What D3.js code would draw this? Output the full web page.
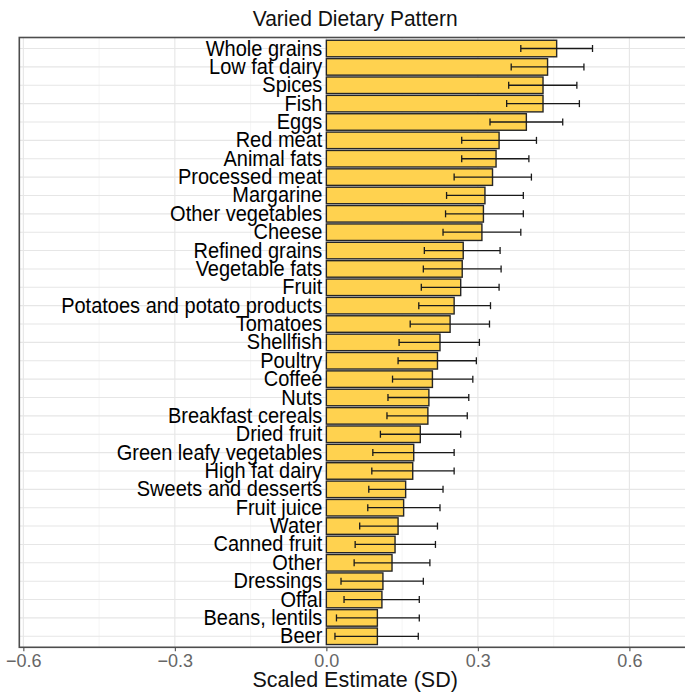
<!DOCTYPE html>
<html>
<head>
<meta charset="utf-8">
<script src="https://cdn.jsdelivr.net/npm/d3@7"></script>
<style>
body { margin: 0; background: #fff; }
text { font-family: "Liberation Sans", Arial, sans-serif; }
</style>
</head>
<body>
<script>
// DATA
const foods = ["Whole grains", "Low fat dairy", "Spices", "Fish", "Eggs", "Red meat", "Animal fats",
  "Processed meat", "Margarine", "Other vegetables", "Cheese", "Refined grains", "Vegetable fats", "Fruit",
  "Potatoes and potato products", "Tomatoes", "Shellfish", "Poultry", "Coffee", "Nuts", "Breakfast cereals",
  "Dried fruit", "Green leafy vegetables", "High fat dairy", "Sweets and desserts", "Fruit juice", "Water",
  "Canned fruit", "Other", "Dressings", "Offal", "Beans, lentils", "Beer"];
const estimate = [0.456, 0.438, 0.429, 0.429, 0.396, 0.342, 0.336, 0.329, 0.314, 0.311, 0.308, 0.271, 0.269, 0.266,
  0.253, 0.245, 0.225, 0.220, 0.210, 0.203, 0.201, 0.186, 0.173, 0.171, 0.157, 0.153, 0.142, 0.136, 0.130, 0.112,
  0.110, 0.101, 0.101];
const lower = [0.385, 0.366, 0.361, 0.357, 0.324, 0.268, 0.268, 0.253, 0.238, 0.236, 0.231, 0.194, 0.192, 0.188,
  0.183, 0.166, 0.144, 0.142, 0.131, 0.122, 0.120, 0.107, 0.092, 0.090, 0.084, 0.082, 0.066, 0.057, 0.055, 0.029,
  0.035, 0.020, 0.017];
const upper = [0.527, 0.510, 0.496, 0.501, 0.468, 0.416, 0.401, 0.406, 0.390, 0.390, 0.385, 0.344, 0.346, 0.342,
  0.325, 0.323, 0.303, 0.297, 0.290, 0.282, 0.279, 0.266, 0.253, 0.253, 0.231, 0.225, 0.220, 0.216, 0.205, 0.192,
  0.184, 0.184, 0.182];
const xTicks = [-0.6, -0.3, 0, 0.3, 0.6];
const xMinor = [-0.45, -0.15, 0.15, 0.45];

// SIZES
const svgwidth = 685;
const svgheight = 692;
const panel = { left: 19.3, right: 691, top: 37.5, bottom: 647.3 };
const stretch = 1.1; // text in the picture is a little taller than wide

const svg = d3.select("body").append("svg")
  .attr("width", svgwidth)
  .attr("height", svgheight);

// SCALES
const X = d3.scaleLinear().domain([-0.608, 0.722]).range([panel.left, panel.right]);
const Y = d3.scaleBand().domain(foods).range([panel.top, panel.bottom])
  .paddingInner(0.1).paddingOuter(0.15);
const yc = d => Y(d) + Y.bandwidth() / 2;

// GRID
const grid = svg.append("g");
grid.selectAll(".minor").data(xMinor).join("line")
  .attr("x1", d => X(d)).attr("x2", d => X(d))
  .attr("y1", panel.top).attr("y2", panel.bottom)
  .attr("stroke", "#f2f2f2").attr("stroke-width", 0.8);
grid.selectAll(".major").data(xTicks).join("line")
  .attr("x1", d => X(d)).attr("x2", d => X(d))
  .attr("y1", panel.top).attr("y2", panel.bottom)
  .attr("stroke", "#e6e6e6").attr("stroke-width", 1.1);
grid.selectAll(".hline").data(foods).join("line")
  .attr("x1", panel.left).attr("x2", panel.right)
  .attr("y1", d => yc(d)).attr("y2", d => yc(d))
  .attr("stroke", "#e6e6e6").attr("stroke-width", 1.1);

// BARS
svg.append("g").selectAll("rect").data(foods).join("rect")
  .attr("x", X(0))
  .attr("y", d => Y(d))
  .attr("width", (d, i) => X(estimate[i]) - X(0))
  .attr("height", Y.bandwidth())
  .attr("fill", "#ffd24f")
  .attr("stroke", "#262626")
  .attr("stroke-width", 1.4);

// ERROR BARS
const cap = 3.5;
const err = svg.append("g").attr("stroke", "#1a1a1a").attr("stroke-width", 1.3);
foods.forEach((d, i) => {
  const y = yc(d);
  err.append("line").attr("x1", X(lower[i])).attr("x2", X(upper[i])).attr("y1", y).attr("y2", y);
  err.append("line").attr("x1", X(lower[i])).attr("x2", X(lower[i])).attr("y1", y - cap).attr("y2", y + cap);
  err.append("line").attr("x1", X(upper[i])).attr("x2", X(upper[i])).attr("y1", y - cap).attr("y2", y + cap);
});

// CATEGORY LABELS (inside the panel, right aligned at zero)
svg.append("g").selectAll("text").data(foods).join("text")
  .attr("transform", d => `translate(${X(0) - 4}, ${yc(d) + 7}) scale(1, ${stretch})`)
  .attr("text-anchor", "end")
  .attr("font-size", 20)
  .attr("fill", "#000")
  .text(d => d);

// PANEL BORDER
svg.append("rect")
  .attr("x", panel.left).attr("y", panel.top)
  .attr("width", panel.right - panel.left).attr("height", panel.bottom - panel.top)
  .attr("fill", "none").attr("stroke", "#4d4d4d").attr("stroke-width", 1.6);

// X AXIS
const xAxis = svg.append("g")
  .attr("transform", `translate(0, ${panel.bottom})`)
  .call(d3.axisBottom(X).tickValues(xTicks).tickSize(4).tickPadding(3)
    .tickFormat(d => d3.format(".1f")(d).replace("-", "\u2212")));
xAxis.select(".domain").remove();
xAxis.selectAll("line").attr("stroke", "#4d4d4d").attr("stroke-width", 1.1);
xAxis.selectAll("text")
  .attr("font-size", 18)
  .attr("fill", "#666")
  .style("font-family", '"Liberation Sans", Arial, sans-serif');

// TITLES
svg.append("text")
  .attr("transform", `translate(${(panel.left + panel.right) / 2}, 26) scale(1, 1.06)`)
  .attr("text-anchor", "middle")
  .attr("font-size", 21)
  .attr("fill", "#111")
  .text("Varied Dietary Pattern");

svg.append("text")
  .attr("transform", `translate(${(panel.left + panel.right) / 2}, 687) scale(1, 1.05)`)
  .attr("text-anchor", "middle")
  .attr("font-size", 21.5)
  .attr("fill", "#111")
  .text("Scaled Estimate (SD)");
</script>
</body>
</html>
